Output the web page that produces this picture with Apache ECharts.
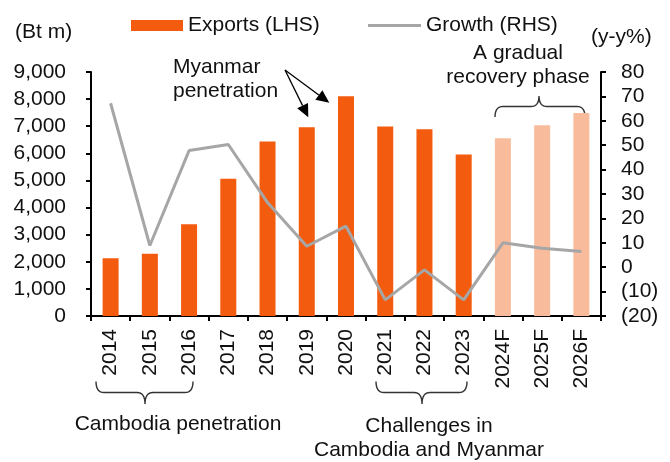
<!DOCTYPE html>
<html>
<head>
<meta charset="utf-8">
<script src="https://cdn.jsdelivr.net/npm/echarts@6/dist/echarts.min.js"></script>
<style>
  html, body { margin: 0; padding: 0; background: #ffffff; }
  #chart { width: 670px; height: 462px; }
</style>
</head>
<body>
<div id="chart"></div>
<script>
// ---- Data ----
const categories = ['2014', '2015', '2016', '2017', '2018', '2019', '2020', '2021', '2022', '2023', '2024F', '2025F', '2026F'];
const exportsValues = [2130, 2300, 3380, 5060, 6440, 6960, 8110, 6990, 6890, 5960, 6560, 7040, 7490];
const growthValues = [67.2, 8.9, 47.8, 50.3, 26.5, 8.6, 16.8, -13.4, -1.1, -13.4, 10.0, 7.8, 6.4];
const forecastFlags = [false, false, false, false, false, false, false, false, false, false, true, true, true];
const leftTicks = { min: 0, max: 9000, interval: 1000 };
const rightTicks = { min: -20, max: 80, interval: 10 };

const FONT = 'Liberation Sans, Arial, sans-serif';
const ORANGE = '#F35B0E';
const LIGHT = '#F8BC9C';
const GRAY = '#A6A6A6';
const TXT = '#111111';

const chart = echarts.init(document.getElementById('chart'), null, { renderer: 'canvas' });

function quad(p0, c, p1, n) {
  const pts = [];
  for (let i = 0; i <= n; i++) {
    const t = i / n, a = (1 - t) * (1 - t), b = 2 * (1 - t) * t, d = t * t;
    pts.push([a * p0[0] + b * c[0] + d * p1[0], a * p0[1] + b * c[1] + d * p1[1]]);
  }
  return pts;
}
function bracePoints(x1, x2, cx, yEnd, yMid, yTip) {
  const r = 8;
  let pts = [];
  pts = pts.concat(quad([x1, yEnd], [x1, yMid], [x1 + r, yMid], 8));
  pts = pts.concat(quad([cx - r, yMid], [cx, yMid], [cx, yTip], 8));
  pts = pts.concat(quad([cx, yTip], [cx, yMid], [cx + r, yMid], 8));
  pts = pts.concat(quad([x2 - r, yMid], [x2, yMid], [x2, yEnd], 8));
  return pts;
}
const braceStyle = { stroke: '#333', lineWidth: 1.4, fill: null };

const option = {
  backgroundColor: '#ffffff',
  animation: false,
  textStyle: { fontFamily: FONT },
  grid: { left: 91, right: 69, top: 72, bottom: 146, containLabel: false },
  legend: [
    {
      left: 126, top: 10, itemWidth: 52, itemHeight: 11,
      data: [{ name: 'Exports (LHS)', icon: 'rect' }],
      textStyle: { fontSize: 21, color: TXT, fontFamily: FONT }
    },
    {
      left: 363, top: 10, itemWidth: 53, itemHeight: 3,
      data: [{ name: 'Growth (RHS)', icon: 'rect' }],
      textStyle: { fontSize: 21, color: TXT, fontFamily: FONT }
    }
  ],
  xAxis: {
    type: 'category',
    data: categories,
    boundaryGap: true,
    axisLine: { lineStyle: { color: '#000', width: 2 } },
    axisTick: { show: true, length: 5, lineStyle: { color: '#000', width: 2 } },
    axisLabel: { rotate: 90, interval: 0, margin: 13, fontSize: 21, color: TXT, fontFamily: FONT }
  },
  yAxis: [
    {
      type: 'value', position: 'left',
      min: leftTicks.min, max: leftTicks.max, interval: leftTicks.interval,
      splitLine: { show: false },
      axisLine: { show: true, lineStyle: { color: '#000', width: 2 } },
      axisTick: { show: true, length: 5, lineStyle: { color: '#000', width: 2 } },
      axisLabel: {
        margin: 25, fontSize: 21, color: TXT, fontFamily: FONT,
        formatter: v => v.toLocaleString('en-US')
      }
    },
    {
      type: 'value', position: 'right',
      min: rightTicks.min, max: rightTicks.max, interval: rightTicks.interval,
      splitLine: { show: false },
      axisLine: { show: true, lineStyle: { color: '#000', width: 2 } },
      axisTick: { show: true, length: 5, lineStyle: { color: '#000', width: 2 } },
      axisLabel: {
        margin: 20, fontSize: 21, color: TXT, fontFamily: FONT,
        formatter: v => v < 0 ? '(' + Math.abs(v) + ')' : String(v)
      }
    }
  ],
  series: [
    {
      name: 'Exports (LHS)',
      type: 'bar',
      yAxisIndex: 0,
      barWidth: 16,
      itemStyle: { color: ORANGE },
      data: exportsValues.map((v, i) => ({
        value: v,
        itemStyle: { color: forecastFlags[i] ? LIGHT : ORANGE }
      })),
      z: 2
    },
    {
      name: 'Growth (RHS)',
      type: 'line',
      yAxisIndex: 1,
      data: growthValues,
      showSymbol: false,
      symbol: 'none',
      itemStyle: { color: GRAY },
      lineStyle: { color: GRAY, width: 3 },
      z: 3
    }
  ],
  graphic: [
    { type: 'text', x: 15, y: 32, style: { text: '(Bt m)', font: '21px ' + FONT, fill: TXT, align: 'left', verticalAlign: 'middle' } },
    { type: 'text', x: 591, y: 37, style: { text: '(y-y%)', font: '21px ' + FONT, fill: TXT, align: 'left', verticalAlign: 'middle' } },
    { type: 'text', x: 173, y: 55, style: { text: 'Myanmar\npenetration', font: '21px ' + FONT, fill: TXT, lineHeight: 24, align: 'left', verticalAlign: 'top' } },
    { type: 'text', x: 518, y: 41, style: { text: 'A gradual\nrecovery phase', font: '21px ' + FONT, fill: TXT, lineHeight: 24, align: 'center', verticalAlign: 'top' } },
    { type: 'text', x: 178, y: 414, style: { text: 'Cambodia penetration', font: '21px ' + FONT, fill: TXT, align: 'center', verticalAlign: 'top' } },
    { type: 'text', x: 429, y: 414, style: { text: 'Challenges in\nCambodia and Myanmar', font: '21px ' + FONT, fill: TXT, lineHeight: 24, align: 'center', verticalAlign: 'top' } },
    { type: 'polyline', shape: { points: bracePoints(96, 193, 145, 381.5, 392.5, 404) }, style: braceStyle },
    { type: 'polyline', shape: { points: bracePoints(376, 467, 422, 381.5, 392.5, 404) }, style: braceStyle },
    { type: 'polyline', shape: { points: bracePoints(495, 585, 539, 117, 106.5, 96) }, style: braceStyle },
    { type: 'line', shape: { x1: 285, y1: 70, x2: 302.6, y2: 105.6 }, style: { stroke: '#000', lineWidth: 1.3 } },
    { type: 'polygon', shape: { points: [[308.3, 117.3], [297.2, 108.3], [308, 103]] }, style: { fill: '#000' } },
    { type: 'line', shape: { x1: 285, y1: 70, x2: 318.8, y2: 95 }, style: { stroke: '#000', lineWidth: 1.3 } },
    { type: 'polygon', shape: { points: [[329.3, 102.7], [315.3, 99.8], [322.4, 90.2]] }, style: { fill: '#000' } }
  ]
};

chart.setOption(option);
</script>
</body>
</html>
